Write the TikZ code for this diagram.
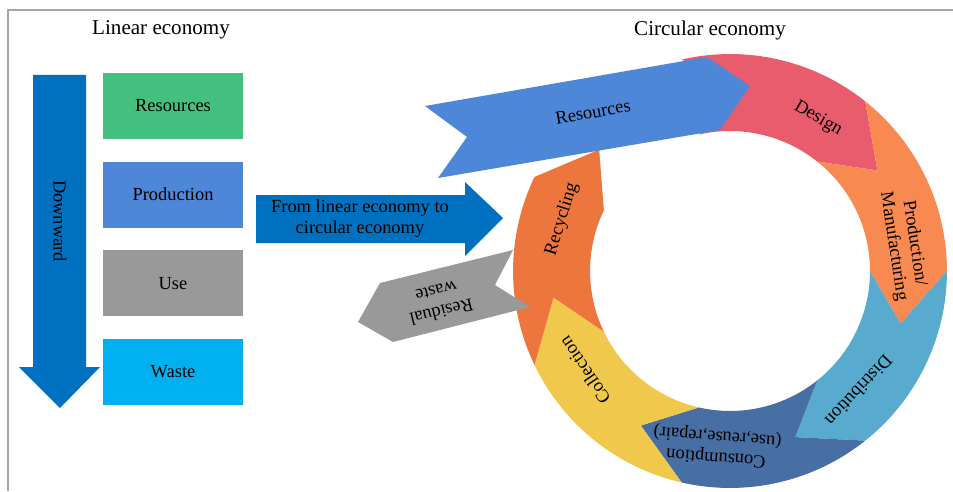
\documentclass[tikz,border=0pt]{standalone}
\usepackage{fontspec}
\setmainfont{Liberation Serif}
\usetikzlibrary{positioning}

\definecolor{resgreen}{RGB}{67,192,126}
\definecolor{prodblue}{RGB}{78,134,216}
\definecolor{usegray}{RGB}{153,153,153}
\definecolor{wastecyan}{RGB}{0,176,240}
\definecolor{arrowblue}{RGB}{0,112,192}
\definecolor{designred}{RGB}{232,92,110}
\definecolor{manuorange}{RGB}{248,137,80}
\definecolor{distblue}{RGB}{88,171,207}
\definecolor{consblue}{RGB}{71,111,164}
\definecolor{collyellow}{RGB}{240,201,76}
\definecolor{recyorange}{RGB}{237,118,62}
\definecolor{framegray}{RGB}{166,166,166}

\begin{document}
\begin{tikzpicture}[x=0.02cm, y=0.02cm,
  title/.style={font=\fontsize{12}{14}\selectfont},
  lbl/.style={font=\fontsize{10.5}{12}\selectfont, align=center, inner sep=0pt},
  stage/.style={minimum width=2.8cm, minimum height=1.32cm, inner sep=0pt, font=\fontsize{10.5}{12}\selectfont}]
\useasboundingbox (0,0) rectangle (953,491);

% Marco
\draw[framegray, line width=0.8pt] (8,0) -- (8,481) -- (953,481);

% Titulos
\node[title] (tlin) at (161,461) {Linear economy};
\node[title] (tcirc) at (710,461) {Circular economy};

% Economia lineal: flecha hacia abajo
\fill[arrowblue] (33,416) -- (86,416) -- (86,124) -- (100,124) -- (60,83) -- (19,124) -- (33,124) -- cycle;
\node[lbl, rotate=-90] (down) at (60,270) {Downward};

% Cuatro etapas
\node[stage, fill=resgreen] (res) at (173,385) {Resources};
\node[stage, fill=prodblue, below=0.44cm of res] (prod) {Production};
\node[stage, fill=usegray, below=0.44cm of prod] (use) {Use};
\node[stage, fill=wastecyan, below=0.44cm of use] (waste) {Waste};

% Flecha de transicion
\fill[arrowblue] (256,296) -- (465,296) -- (465,309) -- (503,273) -- (465,235) -- (465,248) -- (256,248) -- cycle;
\node[lbl] (toce) at (360,272) {From linear economy to\\circular economy};

% Economia circular: anillo
\begin{scope}[shift={(730,220)}]
\fill[designred] (102.86:4.34cm) arc[start angle=102.86, end angle=51.43, radius=4.34cm] -- (34.29:3.57cm) -- (51.43:2.8cm) arc[start angle=51.43, end angle=102.86, radius=2.8cm] -- (85.71:3.57cm) -- cycle;
\fill[manuorange] (51.43:4.34cm) arc[start angle=51.43, end angle=0, radius=4.34cm] -- (-17.14:3.57cm) -- (0:2.8cm) arc[start angle=0, end angle=51.43, radius=2.8cm] -- (34.29:3.57cm) -- cycle;
\fill[distblue] (0:4.34cm) arc[start angle=0, end angle=-51.43, radius=4.34cm] -- (-68.57:3.57cm) -- (-51.43:2.8cm) arc[start angle=-51.43, end angle=0, radius=2.8cm] -- (-17.14:3.57cm) -- cycle;
\fill[consblue] (-51.43:4.34cm) arc[start angle=-51.43, end angle=-102.86, radius=4.34cm] -- (-120:3.57cm) -- (-102.86:2.8cm) arc[start angle=-102.86, end angle=-51.43, radius=2.8cm] -- (-68.57:3.57cm) -- cycle;
\fill[collyellow] (-102.86:4.34cm) arc[start angle=-102.86, end angle=-154.29, radius=4.34cm] -- (-171.43:3.57cm) -- (-154.29:2.8cm) arc[start angle=-154.29, end angle=-102.86, radius=2.8cm] -- (-120:3.57cm) -- cycle;
\fill[recyorange] (-154.29:4.34cm) arc[start angle=-154.29, end angle=-205.71, radius=4.34cm] -- (-222.86:3.57cm) -- (-205.71:2.8cm) arc[start angle=-205.71, end angle=-154.29, radius=2.8cm] -- (-171.43:3.57cm) -- cycle;

\node[lbl, rotate=-30] (design) at (60:3.52cm) {Design};
\node[lbl, rotate=-81.43] (manuf) at (8.57:3.52cm) {Production/\\Manufacturing};
\node[lbl, rotate=-132.86] (distr) at (-42.86:3.52cm) {Distribution};
\node[lbl, rotate=-184.29] (consum) at (-94.29:3.52cm) {Consumption\\(use,reuse,repair)};
\node[lbl, rotate=-235.71] (collect) at (-145.71:3.52cm) {Collection};
\node[lbl, rotate=-287.14] (recyc) at (-197.14:3.52cm) {Recycling};
\end{scope}

% Entrada de recursos
\fill[prodblue] (425,385) -- (707,434) -- (750,405) -- (720,361) -- (438,313) -- (467,354) -- cycle;
\node[lbl, rotate=10] (resin) at (593,379) {Resources};

% Residuos
\fill[usegray] (358,169) -- (380,208) -- (513,241) -- (495,206) -- (530,184) -- (393,149) -- cycle;
\node[lbl, rotate=194] (resid) at (439,189) {Residual\\waste};

\end{tikzpicture}
\end{document}
